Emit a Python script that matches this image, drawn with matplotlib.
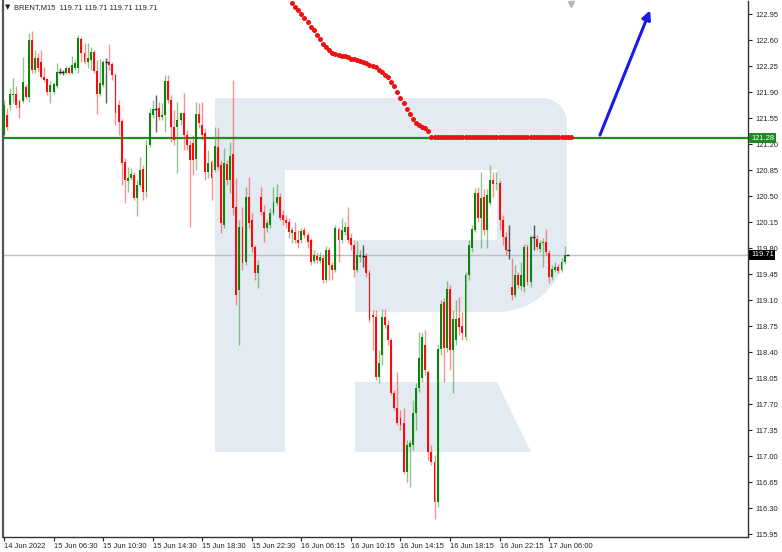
import numpy as np
import matplotlib
matplotlib.use("Agg")
import matplotlib.pyplot as plt
from matplotlib import font_manager
from matplotlib.patches import Polygon
from matplotlib.transforms import blended_transform_factory

# ---- candle data (BRENT M15), one entry per bar ----
opens = [121.32, 121.59, 121.72, 121.86, 121.87, 121.78, 121.78, 121.97, 121.83, 122.60,
         122.20, 122.36, 122.30, 122.10, 122.08, 121.90, 121.90, 121.98, 122.17, 122.17,
         122.16, 122.22, 122.16, 122.22, 122.22, 122.61, 122.43, 122.30, 122.33, 122.44,
         122.18, 121.87, 121.99, 122.30, 122.30, 122.28, 122.13, 121.72, 121.51, 120.96,
         120.70, 120.74, 120.78, 120.47, 120.65, 120.86, 120.55, 121.19, 121.59, 121.67,
         121.68, 121.56, 121.59, 122.05, 121.79, 121.43, 121.43, 121.52, 121.62, 121.32,
         121.19, 121.21, 121.00, 121.60, 121.46, 121.35, 120.82, 120.96, 120.85, 121.16,
         120.92, 120.11, 120.93, 120.72, 121.07, 120.35, 119.24, 120.08, 119.61, 120.49,
         120.18, 119.81, 119.46, 120.49, 120.29, 120.07, 120.11, 120.27, 120.41, 120.49,
         120.24, 120.18, 120.15, 120.00, 120.02, 119.91, 119.91, 120.04, 119.97, 119.91,
         119.63, 119.69, 119.63, 119.67, 119.37, 119.77, 119.57, 119.50, 120.06, 119.91,
         120.02, 120.08, 119.93, 119.84, 119.50, 119.68, 119.69, 119.69, 119.46, 118.90,
         118.87, 118.06, 118.36, 118.87, 118.76, 118.56, 117.85, 117.65, 117.51, 117.45,
         116.79, 117.12, 117.15, 117.58, 117.92, 118.05, 118.50, 118.13, 117.06, 116.92,
         116.38, 118.44, 119.07, 118.45, 119.25, 118.43, 118.56, 118.86, 118.75, 118.60,
         119.44, 119.80, 120.04, 120.54, 120.20, 120.49, 120.04, 120.41, 120.72, 120.66,
         120.68, 120.18, 119.95, 119.77, 119.28, 119.17, 119.44, 119.29, 119.28, 119.81,
         119.34, 119.95, 119.92, 119.79, 119.87, 119.88, 119.73, 119.41, 119.50, 119.54,
         119.50, 119.61, 119.71]
highs = [121.79, 121.68, 121.95, 122.09, 121.98, 121.81, 122.37, 122.01, 122.69, 122.72,
         122.46, 122.43, 122.46, 122.24, 122.09, 122.05, 122.03, 122.29, 122.22, 122.20,
         122.25, 122.25, 122.38, 122.33, 122.67, 122.64, 122.56, 122.56, 122.50, 122.47,
         122.33, 122.34, 122.33, 122.36, 122.55, 122.30, 122.16, 121.79, 121.54, 121.01,
         120.89, 120.88, 120.82, 120.72, 121.03, 120.92, 121.25, 121.68, 121.79, 121.86,
         121.77, 121.75, 122.13, 122.13, 121.86, 121.66, 121.77, 121.62, 121.89, 121.39,
         121.25, 121.32, 121.77, 121.75, 121.77, 121.42, 121.12, 120.99, 121.43, 121.42,
         120.99, 121.15, 120.99, 121.23, 122.06, 120.74, 120.18, 120.35, 120.62, 120.76,
         120.27, 119.84, 119.64, 120.62, 120.38, 120.18, 120.34, 120.62, 120.66, 120.54,
         120.31, 120.24, 120.20, 120.08, 120.15, 120.04, 120.07, 120.08, 120.02, 119.93,
         119.77, 119.73, 119.75, 119.71, 119.83, 119.81, 119.61, 120.11, 120.08, 120.21,
         120.15, 120.35, 120.00, 119.91, 119.89, 119.77, 119.84, 119.73, 119.50, 118.96,
         118.96, 118.43, 118.98, 118.98, 118.83, 118.59, 117.89, 118.13, 117.62, 117.65,
         117.22, 117.22, 117.75, 117.98, 118.67, 118.66, 118.70, 118.16, 117.15, 117.01,
         118.50, 119.10, 119.13, 119.36, 119.30, 118.96, 119.10, 119.14, 118.94, 119.48,
         119.91, 120.11, 120.61, 120.62, 120.82, 120.59, 120.59, 120.92, 120.82, 120.82,
         120.72, 120.24, 120.02, 120.11, 119.67, 119.57, 119.48, 119.61, 119.85, 119.85,
         119.97, 120.11, 119.97, 119.91, 119.93, 120.06, 119.77, 119.57, 119.61, 119.58,
         119.67, 119.83, 119.71]
lows = [121.31, 121.39, 121.66, 121.75, 121.68, 121.55, 121.75, 121.81, 121.77, 122.16,
        122.16, 122.18, 122.09, 122.03, 121.86, 121.75, 121.87, 121.95, 122.14, 122.13,
        122.14, 122.14, 122.14, 122.20, 122.16, 122.30, 122.28, 122.22, 122.20, 122.16,
        121.60, 121.85, 121.97, 121.75, 122.20, 122.06, 121.46, 121.32, 120.65, 120.41,
        120.55, 120.72, 120.45, 120.23, 120.62, 120.45, 120.49, 121.16, 121.55, 121.36,
        121.52, 121.52, 121.36, 121.75, 121.23, 121.19, 120.81, 121.46, 121.12, 121.12,
        120.08, 120.78, 120.85, 121.42, 121.25, 120.72, 120.74, 120.45, 120.82, 120.85,
        120.00, 120.07, 120.65, 120.54, 120.24, 119.03, 118.50, 119.50, 119.57, 120.07,
        119.75, 119.37, 119.26, 120.24, 119.88, 120.02, 120.07, 120.24, 120.38, 120.18,
        120.11, 120.07, 119.93, 119.87, 119.87, 119.80, 119.87, 119.93, 119.80, 119.57,
        119.60, 119.60, 119.60, 119.33, 119.34, 119.37, 119.37, 119.48, 119.61, 119.87,
        119.97, 119.87, 119.77, 119.41, 119.48, 119.61, 119.54, 119.41, 118.80, 118.43,
        118.02, 117.98, 118.23, 118.72, 118.50, 117.82, 117.62, 117.42, 117.35, 116.76,
        116.65, 116.58, 117.08, 117.35, 117.86, 118.00, 118.09, 116.95, 116.88, 116.15,
        116.31, 118.36, 118.00, 118.40, 118.16, 117.85, 118.50, 118.63, 118.56, 118.56,
        119.37, 119.75, 120.02, 120.15, 119.80, 119.97, 119.80, 120.38, 120.49, 120.58,
        120.04, 119.84, 119.71, 119.65, 119.10, 119.14, 119.26, 119.24, 119.21, 119.30,
        119.28, 119.77, 119.77, 119.75, 119.54, 119.71, 119.33, 119.37, 119.48, 119.46,
        119.48, 119.58, 119.71]
closes = [121.72, 121.43, 121.87, 121.87, 121.72, 121.68, 122.03, 121.83, 122.60, 122.20,
          122.36, 122.22, 122.10, 122.06, 121.90, 121.99, 122.01, 122.17, 122.17, 122.17,
          122.22, 122.16, 122.26, 122.29, 122.63, 122.43, 122.30, 122.36, 122.44, 122.18,
          121.87, 122.02, 122.30, 122.30, 122.26, 122.13, 121.62, 121.50, 120.95, 120.72,
          120.74, 120.80, 120.47, 120.65, 120.85, 120.55, 121.19, 121.62, 121.67, 121.67,
          121.56, 121.59, 122.05, 121.79, 121.43, 121.25, 121.52, 121.62, 121.32, 121.19,
          120.99, 120.99, 121.60, 121.48, 121.32, 120.82, 120.95, 120.74, 121.17, 120.89,
          120.14, 120.95, 120.72, 121.04, 120.34, 119.17, 120.08, 119.60, 120.49, 120.14,
          119.81, 119.46, 119.57, 120.29, 120.07, 120.14, 120.27, 120.42, 120.49, 120.20,
          120.18, 120.14, 120.02, 120.04, 119.91, 119.87, 120.03, 119.97, 119.88, 119.61,
          119.71, 119.64, 119.68, 119.37, 119.77, 119.57, 119.50, 120.07, 119.91, 120.04,
          120.08, 119.91, 119.84, 119.50, 119.71, 119.71, 119.69, 119.46, 118.83, 118.87,
          118.06, 118.25, 118.87, 118.76, 118.56, 117.85, 117.65, 117.45, 117.42, 116.79,
          117.15, 117.18, 117.58, 117.92, 118.32, 118.60, 118.16, 117.06, 116.92, 116.38,
          118.44, 119.05, 118.45, 119.25, 118.43, 118.85, 118.85, 118.74, 118.66, 119.44,
          119.84, 120.06, 120.54, 120.20, 120.47, 120.04, 120.51, 120.72, 120.66, 120.68,
          120.18, 119.95, 119.77, 119.77, 119.17, 119.44, 119.30, 119.44, 119.81, 119.34,
          119.95, 119.95, 119.81, 119.87, 119.88, 119.75, 119.41, 119.52, 119.54, 119.49,
          119.61, 119.71, 119.71]

# red dotted indicator, starts at bar 93
dots_start = 93
dots = [123.10, 123.05, 123.00, 122.95, 122.90, 122.84, 122.78, 122.73, 122.67, 122.61,
        122.55, 122.50, 122.46, 122.43, 122.41, 122.40, 122.39, 122.38, 122.37, 122.35,
        122.34, 122.33, 122.32, 122.31, 122.29, 122.27, 122.25, 122.23, 122.20, 122.17,
        122.13, 122.10, 122.04, 121.98, 121.90, 121.82, 121.75, 121.67, 121.60, 121.53,
        121.48, 121.45, 121.43, 121.42, 121.38, 121.30,
        121.29, 121.29, 121.29, 121.29, 121.29, 121.29, 121.29, 121.29, 121.29, 121.29,
        121.29, 121.29, 121.29, 121.29, 121.29, 121.29, 121.29, 121.29, 121.29, 121.29,
        121.29, 121.29, 121.29, 121.29, 121.29, 121.29, 121.29, 121.29, 121.29, 121.29,
        121.29, 121.29, 121.29, 121.29, 121.29, 121.29, 121.29, 121.29, 121.29, 121.29,
        121.29, 121.29, 121.29, 121.29, 121.29]

level_line = 121.28
last_price = 119.71
arrow_from = (192.4, 121.32)
arrow_to = (208.6, 123.00)

x_labels = ["14 Jun 2022", "15 Jun 06:30", "15 Jun 10:30", "15 Jun 14:30", "15 Jun 18:30",
            "15 Jun 22:30", "16 Jun 06:15", "16 Jun 10:15", "16 Jun 14:15", "16 Jun 18:15",
            "16 Jun 22:15", "17 Jun 06:00"]
x_label_bars = [0, 16, 32, 48, 64, 80, 96, 112, 128, 144, 160, 176]
y_ticks = [115.95, 116.30, 116.65, 117.00, 117.35, 117.70, 118.05, 118.40, 118.75, 119.10,
           119.45, 119.80, 120.15, 120.50, 120.85, 121.20, 121.55, 121.90, 122.25, 122.60, 122.95]

# narrow font if there is one, the terminal font is quite compact
fam = 'Liberation Sans'
fsize = 5.4
for cand in ['Liberation Sans Narrow', 'DejaVu Sans Condensed']:
    try:
        font_manager.findfont(cand, fallback_to_default=False)
        fam = cand
        fsize = 6.5
        break
    except Exception:
        pass
plt.rcParams['font.family'] = [fam, 'DejaVu Sans']

W, H = 782, 552
fig = plt.figure(figsize=(W / 100, H / 100), dpi=100)
fig.patch.set_facecolor('white')
ax = fig.add_axes([3 / W, 15 / H, 745 / W, 536 / H])
ax.set_facecolor('white')
ax.set_xlim(-0.32, 240.2)
ax.set_ylim(115.91, 123.125)

# ---- watermark "R" (background, image pixel coords) ----
wm = '#e4eaf2'
def px(x, y):
    return (x / W, 1 - y / H)

def rect(x0, y0, x1, y1):
    pts = [px(x0, y0), px(x1, y0), px(x1, y1), px(x0, y1)]
    ax.add_patch(Polygon(pts, closed=True, fc=wm, ec='none', transform=fig.transFigure, zorder=0))

rect(215, 98, 285, 452)      # stem
rect(285, 98, 520, 170)      # top bar
rect(355, 240, 500, 312)     # middle bar
# right stroke of the bowl with rounded corners
pts = [(497, 98), (542, 98)]
for a in np.linspace(90, 0, 12):
    pts.append((542 + 25 * np.cos(np.radians(a)), 123 - 25 * np.sin(np.radians(a))))
for a in np.linspace(0, -90, 16):
    pts.append((497 + 70 * np.cos(np.radians(a)), 242 - 70 * np.sin(np.radians(a))))
pts.append((497, 312))
ax.add_patch(Polygon([px(*p) for p in pts], closed=True, fc=wm, ec='none',
                     transform=fig.transFigure, zorder=0))
# leg
ax.add_patch(Polygon([px(355, 382), px(497, 382), px(531, 452), px(355, 452)], closed=True,
                     fc=wm, ec='none', transform=fig.transFigure, zorder=0))

# ---- horizontal lines ----
ax.axhline(last_price, color='#c0c0c0', lw=1, zorder=1)
ax.axhline(level_line, color='#1f8a1f', lw=1.6, zorder=2)

# ---- candles ----
o = np.array(opens); h = np.array(highs); l = np.array(lows); c = np.array(closes)
x = np.arange(len(o))
up = c > o
dn = c < o
dj = c == o
ax.vlines(x[up], l[up], h[up], color='#2e9a2e', lw=1, alpha=0.55, zorder=3)
ax.vlines(x[dn], l[dn], h[dn], color='#ff2020', lw=1, alpha=0.5, zorder=3)
ax.vlines(x[dj], l[dj], h[dj], color='#333333', lw=1, alpha=0.8, zorder=3)
ax.bar(x[up], c[up] - o[up], bottom=o[up], width=0.62, color='#0a860a', lw=0, zorder=4)
ax.bar(x[dn], c[dn] - o[dn], bottom=o[dn], width=0.62, color='#ff0a0a', lw=0, zorder=4)
ax.hlines(o[dj], x[dj] - 0.5, x[dj] + 0.5, color='#222222', lw=1, zorder=4)

# ---- red dotted indicator ----
dx = np.arange(dots_start, dots_start + len(dots))
ax.plot(dx, dots, 'o', color='#ee1111', ms=3.6, mew=0, zorder=5)

# ---- blue arrow ----
ax.annotate('', xy=arrow_to, xytext=arrow_from,
            arrowprops=dict(arrowstyle='-|>', color='#1a1ae6', lw=2.2, mutation_scale=13,
                            shrinkA=0, shrinkB=0), zorder=6)

# chart shift marker at top
ax.plot([183], [123.09], marker='v', color='#b8b8b8', ms=5, clip_on=False, zorder=6)

# ---- axes styling ----
ax.spines['top'].set_visible(False)
for s in ['left', 'right', 'bottom']:
    ax.spines[s].set_color('#333333')
    ax.spines[s].set_linewidth(1)
ax.spines['left'].set_linewidth(1.6)
ax.spines['left'].set_color('#555555')

ax.yaxis.tick_right()
ax.set_yticks(y_ticks)
ax.set_yticklabels([f"{v:.2f}" for v in y_ticks])
ax.tick_params(axis='y', direction='out', length=3, width=0.8, pad=2, labelsize=fsize,
               colors='#222222', left=False)
ax.set_xticks(x_label_bars)
ax.set_xticklabels(x_labels)
ax.tick_params(axis='x', direction='out', length=3, width=0.8, pad=1, labelsize=fsize,
               colors='#222222')
for t in ax.get_xticklabels():
    t.set_ha('left')

# price boxes on the axis
tr = blended_transform_factory(ax.transAxes, ax.transData)
ax.text(1.004, level_line, f"{level_line:.2f}", transform=tr, fontsize=fsize, color='white',
        va='center', ha='left', zorder=10,
        bbox=dict(boxstyle='square,pad=0.2', fc='#1f8a1f', ec='none'))
ax.text(1.004, last_price, f"{last_price:.2f}", transform=tr, fontsize=fsize, color='white',
        va='center', ha='left', zorder=10,
        bbox=dict(boxstyle='square,pad=0.2', fc='#000000', ec='none'))

# header
fig.text(5 / W, 1 - 7.5 / H, "\u25BC", fontsize=5, color='#222222', va='center', ha='left',
         family='DejaVu Sans')
fig.text(14 / W, 1 - 7.5 / H, "BRENT,M15  119.71 119.71 119.71 119.71", fontsize=fsize,
         color='#222222', va='center', ha='left')

fig.savefig('out.png', dpi=100, facecolor='white')
